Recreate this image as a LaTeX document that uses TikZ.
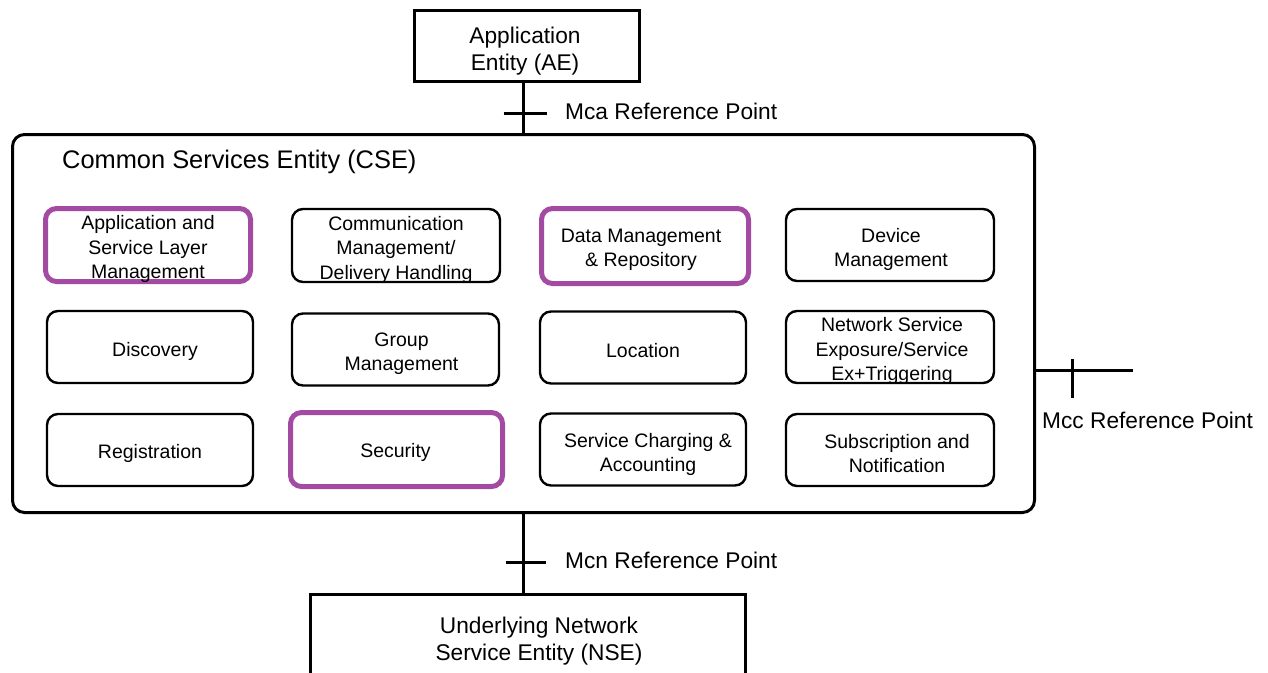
\documentclass[tikz,border=0pt]{standalone}
\usepackage{fontspec}
\setmainfont{Liberation Sans}
\definecolor{purp}{RGB}{163,74,163}
\newcommand\mkbox[8]{%
  \node[#1, minimum width=#5pt, minimum height=#6pt] (#2) at (#3,#4) {};
  \node[boxtext] (#2-t) at ([shift={(#7)}]#2.center) {#8};}
\begin{document}
\begin{tikzpicture}[x=1pt,y=-1pt,
  mainfont/.style={font=\fontsize{22.7}{27}\selectfont},
  entity/.style={draw, line width=3pt, inner sep=0pt},
  fbox/.style={draw, line width=2.4pt, rounded corners=11pt, inner sep=0pt},
  pbox/.style={fbox, draw=purp, line width=5pt},
  boxtext/.style={align=center, inner sep=0pt, font=\fontsize{19.5}{24.5}\selectfont},
  bigtext/.style={align=center, inner sep=0pt, mainfont},
  conn/.style={line width=3pt},
  reflabel/.style={anchor=west, inner sep=0pt, mainfont}]
\useasboundingbox (0,0) rectangle (1268,672);
% Application Entity
\node[entity, minimum width=225pt, minimum height=71pt] (ae) at (527,46) {};
\node[bigtext] (ae-t) at ([shift={(-2,5)}]ae.center) {Application\\Entity (AE)};
% CSE
\node[draw, line width=3pt, rounded corners=12pt, minimum width=1022pt, minimum height=378pt, inner sep=0pt] (cse) at (523.5,323.5) {};
\node[anchor=west, inner sep=0pt, font=\fontsize{25.4}{30}\selectfont] (cset) at (62,162) {Common Services Entity (CSE)};
% functions row 1
\mkbox{pbox}{asl}{148}{245}{205}{73}{0,4}{Application and\\Service Layer\\Management}
\mkbox{fbox}{cmdh}{396}{245.5}{208}{73}{0,4}{Communication\\Management/\\Delivery Handling}
\mkbox{pbox}{dmr}{645}{246}{207}{75}{-4,4}{Data Management\\\& Repository}
\mkbox{fbox}{dm}{890}{245}{208}{72}{1,4.5}{Device\\Management}
% row 2
\mkbox{fbox}{disc}{150}{347}{206}{72}{5,4}{Discovery}
\mkbox{fbox}{grp}{395.5}{349.5}{207}{72}{6,4}{Group\\Management}
\mkbox{fbox}{loc}{643}{347.5}{206}{72}{0,3}{Location}
\mkbox{fbox}{nse2}{890}{347}{208}{72}{2,4}{Network Service\\Exposure/Service\\Ex+Triggering}
% row 3
\mkbox{fbox}{reg}{150}{450}{206}{72}{0,3.5}{Registration}
\mkbox{pbox}{sec}{396.5}{449.5}{212}{74}{-1,3}{Security}
\mkbox{fbox}{chg}{643}{449.5}{206}{72}{5,5}{Service Charging \&\\Accounting}
\mkbox{fbox}{sub}{890}{450}{208}{72}{7,3.5}{Subscription and\\Notification}
% Underlying network
\node[inner sep=0pt, minimum width=435pt, minimum height=120pt, anchor=north] (nse) at (528,594.5) {};
\draw[conn] (nse.south west) -- (nse.north west) -- (nse.north east) -- (nse.south east);
\node[bigtext] (nse-t) at (539,641.5) {Underlying Network\\Service Entity (NSE)};
% Mca
\draw[conn] (cse.north |- ae.south) -- (cse.north);
\coordinate (mca) at (524.5,113);
\draw[conn] ([xshift=-21pt]mca) -- ([xshift=22pt]mca);
\node[reflabel] (mcal) at (565,111) {Mca Reference Point};
% Mcn
\draw[conn] (cse.south) -- (cse.south |- nse.north);
\coordinate (mcn) at (523.5,562);
\draw[conn] ([xshift=-18pt]mcn) -- ([xshift=22pt]mcn);
\node[reflabel] (mcnl) at (565,560) {Mcn Reference Point};
% Mcc
\coordinate (mccend) at (1133,370);
\draw[conn] (cse.east |- mccend) -- (mccend);
\coordinate (mcc) at (1072,370);
\draw[conn] ([yshift=11pt]mcc) -- ([yshift=-28pt]mcc);
\node[reflabel] (mccl) at (1042,420) {Mcc Reference Point};
\end{tikzpicture}
\end{document}
